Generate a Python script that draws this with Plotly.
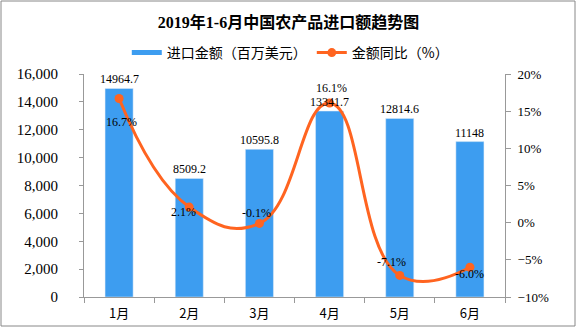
import plotly.graph_objects as go

months = ["1月", "2月", "3月", "4月", "5月", "6月"]
import_value = [14964.7, 8509.2, 10595.8, 13341.7, 12814.6, 11148]
import_label = ["14964.7", "8509.2", "10595.8", "13341.7", "12814.6", "11148"]
yoy = [16.7, 2.1, -0.1, 16.1, -7.1, -6.0]
yoy_label = ["16.7%", "2.1%", "-0.1%", "16.1%", "-7.1%", "-6.0%"]
# pixel offsets of the line labels relative to their points
yoy_dx = [2, -6, -3, 2, -8, 0]
yoy_dy = [-23, -5, 10, 15, 13, -7]

W, H = 577, 327
ML, MR, MT, MB = 84, 72, 74, 30
FONT = "Noto Sans CJK SC"
NUMFONT = "Liberation Serif, Noto Sans CJK SC"
BLUE = "#3d9df0"
ORANGE = "#ff6420"

fig = go.Figure()
fig.add_trace(go.Bar(
    x=months, y=import_value, name="进口金额（百万美元）",
    marker_color=BLUE, width=0.4, showlegend=False,
))
fig.add_trace(go.Scatter(
    x=[None], y=[None], name="进口金额（百万美元）", mode="lines",
    line=dict(color=BLUE, width=5),
))
fig.add_trace(go.Scatter(
    x=months, y=yoy, name="金额同比（%）", yaxis="y2",
    mode="lines+markers",
    line=dict(color=ORANGE, width=3, shape="spline", smoothing=1.3),
    marker=dict(size=9, color=ORANGE),
))
for m, v, t in zip(months, import_value, import_label):
    fig.add_annotation(x=m, y=v, xref="x", yref="y", text=t, showarrow=False,
                       yshift=9, font=dict(size=12, color="#000", family=NUMFONT))
for m, v, t, dx, dy in zip(months, yoy, yoy_label, yoy_dx, yoy_dy):
    fig.add_annotation(x=m, y=v, xref="x", yref="y2", text=t, showarrow=False,
                       xshift=dx, yshift=dy,
                       font=dict(size=12, color="#000", family=NUMFONT))

pw = W - ML - MR
ph = H - MT - MB
fig.update_layout(
    width=W, height=H,
    margin=dict(l=ML, r=MR, t=MT, b=MB, autoexpand=False),
    paper_bgcolor="white", plot_bgcolor="white",
    font=dict(family=FONT, size=12, color="#000"),
    title=dict(text="<b>2019年1-6月中国农产品进口额趋势图</b>", x=0.5, xanchor="center",
               y=1 - 22 / H, yanchor="middle",
               font=dict(size=16, color="#000", family="Liberation Serif, Noto Sans CJK SC")),
    legend=dict(orientation="h", x=0.49, xanchor="center", y=1 + 21 / ph, yanchor="middle",
                font=dict(size=14), itemwidth=30, traceorder="normal"),
    bargap=0.6,
    showlegend=True,
    xaxis=dict(showline=True, linecolor="#999", linewidth=1, ticks="outside",
               tickson="boundaries", ticklen=5, tickcolor="#999", ticklabelstandoff=4,
               tickfont=dict(size=13), showgrid=False, automargin=False),
    yaxis=dict(range=[0, 16000], dtick=2000, tickformat=",", showgrid=False,
               showline=True, linecolor="#999", linewidth=1, ticks="outside",
               ticklen=4, tickcolor="#999", ticklabelstandoff=18, automargin=False,
               tickfont=dict(size=15, family=NUMFONT)),
    yaxis2=dict(range=[-10, 20], dtick=5, ticksuffix="%", overlaying="y", side="right",
                showgrid=False, zeroline=False, showline=True, linecolor="#999", linewidth=1,
                ticks="outside", ticklen=5, tickcolor="#999", ticklabelstandoff=4,
                automargin=False, tickfont=dict(size=13, family=NUMFONT)),
    shapes=[dict(type="rect", xref="paper", yref="paper",
                 x0=-(ML - 1) / pw, x1=1 + (MR - 2) / pw,
                 y0=-(MB - 1) / ph, y1=1 + (MT - 1) / ph,
                 line=dict(color="#888", width=1))],
)
fig.write_html("out.html")
